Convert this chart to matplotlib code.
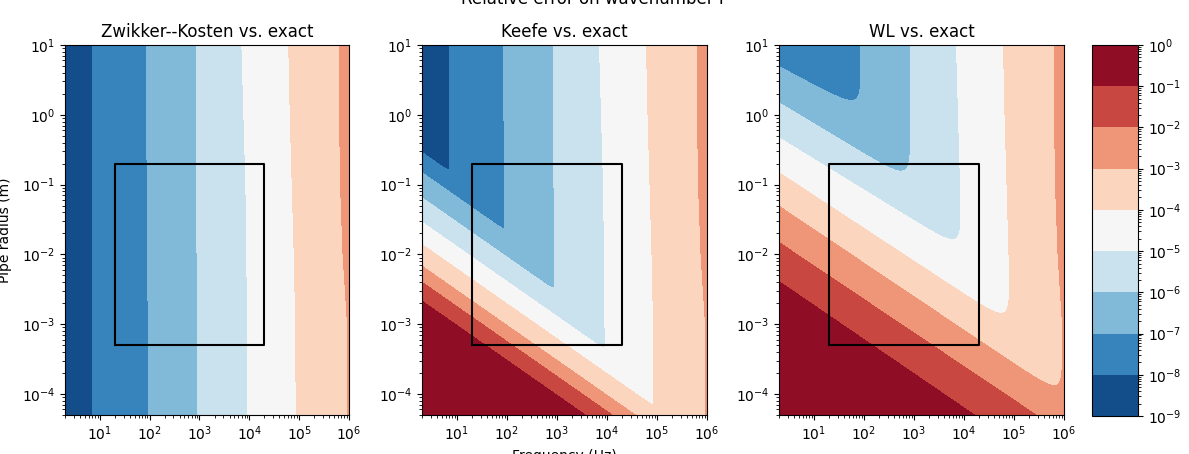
import numpy as np
import matplotlib
matplotlib.use("Agg")
import matplotlib.pyplot as plt
from matplotlib.colors import LogNorm
from matplotlib.ticker import LogLocator

# ---------------- data ----------------
freq_lim = [2.0, 1e6]          # Hz
radius_lim = [5e-5, 10.0]      # m
err_exponents = [-9, -8, -7, -6, -5, -4, -3, -2, -1, 0]

titles = ["Zwikker--Kosten vs. exact", "Keefe vs. exact", "WL vs. exact"]
suptitle = "Relative error on wavenumber \u0393"

# highlighted region
rect_f = [20.0, 2e4]
rect_r = [5e-4, 0.2]

# common frequency-driven error: log10(f) at which the error crosses 10^level,
# read at several pipe radii (log10 r)
hf_logr = [1.0, 0.0, -1.0, -2.0, -3.0, -4.3]
hf_levels = [-9, -8, -7, -6, -5, -4, -3, -2]
hf_edges = [
    [-0.20, -0.20, -0.20, -0.20, -0.20, -0.20],
    [0.86, 0.86, 0.86, 0.86, 0.86, 0.86],
    [1.94, 1.94, 1.95, 1.96, 1.97, 1.97],
    [2.93, 2.93, 2.94, 2.95, 2.95, 2.95],
    [3.85, 3.89, 3.93, 3.95, 3.96, 3.97],
    [4.79, 4.82, 4.86, 4.90, 4.93, 4.94],
    [5.80, 5.81, 5.83, 5.88, 5.97, 5.97],
    [6.85, 6.85, 6.85, 6.90, 6.95, 6.95],
]

# small-radius / low-frequency error: iso-error lines given by log10(r)
# at the left edge (f = 2 Hz) and right edge (f = 1e6 Hz)
diag_levels = [-12, -9, -8, -7, -6, -5, -4, -3, -2, -1, 0, 2]
keefe_left = [0.66, -0.24, -0.54, -0.83, -1.19, -1.54, -1.86, -2.17, -2.40, -2.67, -2.95, -3.50]
keefe_right = [-2.19, -3.09, -3.39, -3.68, -4.04, -4.39, -4.71, -5.02, -5.25, -5.52, -5.80, -6.35]
wl_left = [3.30, 1.75, 1.22, 0.69, 0.17, -0.33, -0.83, -1.31, -1.83, -2.39, -2.90, -3.90]
wl_right = [1.13, -0.42, -0.95, -1.48, -2.28, -2.84, -3.51, -4.05, -4.57, -5.18, -5.75, -6.75]

# how sharply the two error sources combine at the corners (p-norm exponent)
combine_p = [None, 8.0, 2.0]

# ---------------- build the error fields ----------------
F = np.linspace(np.log10(freq_lim[0]), np.log10(freq_lim[1]), 500)
R = np.linspace(np.log10(radius_lim[0]), np.log10(radius_lim[1]), 500)
FF, RR = np.meshgrid(F, R)


def hf_field():
    out = np.empty_like(FF)
    rows = np.array(hf_logr)[::-1]
    edges = np.array(hf_edges)[:, ::-1]
    for i, r in enumerate(R):
        e = [np.interp(r, rows, edges[k]) for k in range(len(hf_levels))]
        out[i] = np.interp(F, e, hf_levels)
    return out


def diag_field(left, right):
    out = np.empty_like(FF)
    left = np.array(left)
    right = np.array(right)
    t = (F - F[0]) / (F[-1] - F[0])
    for j in range(len(F)):
        lines = left + (right - left) * t[j]
        out[:, j] = np.interp(-R, -lines, diag_levels)
    return out


hf = hf_field()
fields = []
for diag, p in zip([None, (keefe_left, keefe_right), (wl_left, wl_right)], combine_p):
    if diag is None:
        z = hf.copy()
    else:
        d = diag_field(*diag)
        z = np.log10(10.0 ** (p * hf) + 10.0 ** (p * d)) / p
    z = np.clip(z, err_exponents[0] + 0.005, err_exponents[-1] - 0.005)
    fields.append(10.0 ** z)

# ---------------- plot ----------------
W, H = 1189, 454
fig = plt.figure(figsize=(W / 100, H / 100), dpi=100)


def px_axes(x0, x1, y0, y1):
    return fig.add_axes([x0 / W, 1 - y1 / H, (x1 - x0) / W, (y1 - y0) / H])


axes = [px_axes(65, 349, 45, 415), px_axes(422, 707, 45, 415), px_axes(779, 1064, 45, 415)]
cax = px_axes(1092, 1138, 45, 416)

levels = 10.0 ** np.array(err_exponents, dtype=float)
norm = LogNorm(vmin=levels[0], vmax=levels[-1])
X = 10.0 ** FF
Y = 10.0 ** RR

cs = None
for ax, z, title in zip(axes, fields, titles):
    cs = ax.contourf(X, Y, z, levels=levels, norm=norm, cmap="RdBu_r")
    ax.set_xscale("log")
    ax.set_yscale("log")
    ax.set_xlim(freq_lim)
    ax.set_ylim(radius_lim)
    ax.yaxis.set_minor_locator(LogLocator(base=10, subs=np.arange(2, 10), numticks=100))
    ax.xaxis.set_minor_locator(LogLocator(base=10, subs=np.arange(2, 10), numticks=100))
    ax.plot([rect_f[0], rect_f[1], rect_f[1], rect_f[0], rect_f[0]],
            [rect_r[0], rect_r[0], rect_r[1], rect_r[1], rect_r[0]],
            color="black", lw=1.5)
    ax.set_title(title, fontsize=12)

axes[0].set_ylabel("Pipe radius (m)", labelpad=7)
axes[1].set_xlabel("Frequency (Hz)")

cb = fig.colorbar(cs, cax=cax)
cb.ax.yaxis.set_minor_locator(LogLocator(base=10, subs=np.arange(2, 10), numticks=100))

fig.text(0.5, 1 - 4 / H, suptitle, ha="center", va="baseline", fontsize=12)

fig.savefig("out.png", dpi=100)
